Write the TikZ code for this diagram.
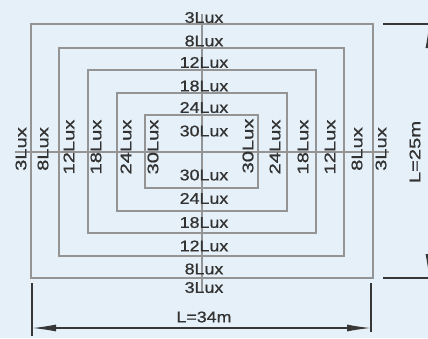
\documentclass[tikz,border=0pt]{standalone}
\usepackage{fontspec}
\setmainfont{Liberation Sans}
\newfontfamily\labfont{Liberation Sans}[FakeBold=0.8]
\usepackage{graphicx}
\usetikzlibrary{arrows.meta}
\definecolor{bg}{RGB}{229,240,248}
\definecolor{ln}{RGB}{148,148,148}
\definecolor{tx}{RGB}{50,50,50}
\definecolor{dm}{RGB}{55,55,55}
\newcommand\hlab[1]{\scalebox{1.15}[1]{#1}}
\newcommand\vlab[1]{\scalebox{1.3}[1]{#1}}
\begin{document}
\begin{tikzpicture}[x=1pt,y=-1pt,
  zone/.style={draw=ln,line width=1.7pt},
  axis/.style={draw=ln,line width=1.7pt},
  hl/.style={text=tx,inner sep=0pt,font=\labfont\fontsize{15.5}{15.5}\selectfont},
  vl/.style={hl,rotate=90},
  dimline/.style={draw=dm,line width=1.3pt},
  dimarrow/.style={dimline,{Latex[length=24pt,width=7pt]}-{Latex[length=24pt,width=7pt]}}]
\fill[bg] (0,0) rectangle (428,338);
\useasboundingbox (0,0) rectangle (428,338);
\clip (0,0) rectangle (428,338);
% zones
\draw[zone] (31,24) rectangle (373,278);
\draw[zone] (59,48) rectangle (344,256);
\draw[zone] (88,70) rectangle (316,233);
\draw[zone] (117,93) rectangle (287,211);
\draw[zone] (145,115) rectangle (258,188);
% centre lines
\coordinate (hL) at (15,152);
\coordinate (hR) at (389,152);
\coordinate (vT) at (202,14);
\coordinate (vB) at (202,293);
\draw[axis] (hL) -- (hR);
\draw[axis] (vT) -- (vB);
% horizontal labels
\node[hl] (t3)  at (204,17.5) {\hlab{3Lux}};
\node[hl] (t8)  at (204,41) {\hlab{8Lux}};
\node[hl] (t12) at (204,62.5) {\hlab{12Lux}};
\node[hl] (t18) at (204,86) {\hlab{18Lux}};
\node[hl] (t24) at (204,107.5) {\hlab{24Lux}};
\node[hl] (t30) at (204,131) {\hlab{30Lux}};
\node[hl] (b30) at (204,175) {\hlab{30Lux}};
\node[hl] (b24) at (204,198.5) {\hlab{24Lux}};
\node[hl] (b18) at (204,222.5) {\hlab{18Lux}};
\node[hl] (b12) at (204,246) {\hlab{12Lux}};
\node[hl] (b8)  at (204,269) {\hlab{8Lux}};
\node[hl] (b3)  at (204,287.5) {\hlab{3Lux}};
% vertical labels
\node[vl] (l3)  at (21,149) {\vlab{3Lux}};
\node[vl] (l8)  at (43,149) {\vlab{8Lux}};
\node[vl] (l12) at (69,147) {\vlab{12Lux}};
\node[vl] (l18) at (96,147) {\vlab{18Lux}};
\node[vl] (l24) at (126,147) {\vlab{24Lux}};
\node[vl] (l30) at (153,147) {\vlab{30Lux}};
\node[vl] (r30) at (248,146) {\vlab{30Lux}};
\node[vl] (r24) at (275,147) {\vlab{24Lux}};
\node[vl] (r18) at (303,147) {\vlab{18Lux}};
\node[vl] (r12) at (330,147) {\vlab{12Lux}};
\node[vl] (r8)  at (357,149) {\vlab{8Lux}};
\node[vl] (r3)  at (381,149) {\vlab{3Lux}};
% bottom dimension L=34m
\coordinate (eL1) at (32,283);
\coordinate (eL2) at (32,336);
\coordinate (eR1) at (371,283);
\coordinate (eR2) at (371,332);
\coordinate (dL) at (32,328);
\coordinate (dR) at (371,328);
\draw[dimline] (eL1) -- (eL2);
\draw[dimline] (eR1) -- (eR2);
\draw[dimarrow] (dL) -- (dR);
\node[hl] (w) at (204,317) {\hlab{L=34m}};
% right dimension L=25m
\coordinate (tT1) at (383,24);
\coordinate (tT2) at (432,24);
\coordinate (tB1) at (383,278);
\coordinate (tB2) at (432,278);
\coordinate (dT) at (429,24);
\coordinate (dB) at (429,278);
\draw[dimline] (tT1) -- (tT2);
\draw[dimline] (tB1) -- (tB2);
\draw[dimarrow] (dT) -- (dB);
\node[vl] (h) at (415,152) {\vlab{L=25m}};
\end{tikzpicture}
\end{document}
